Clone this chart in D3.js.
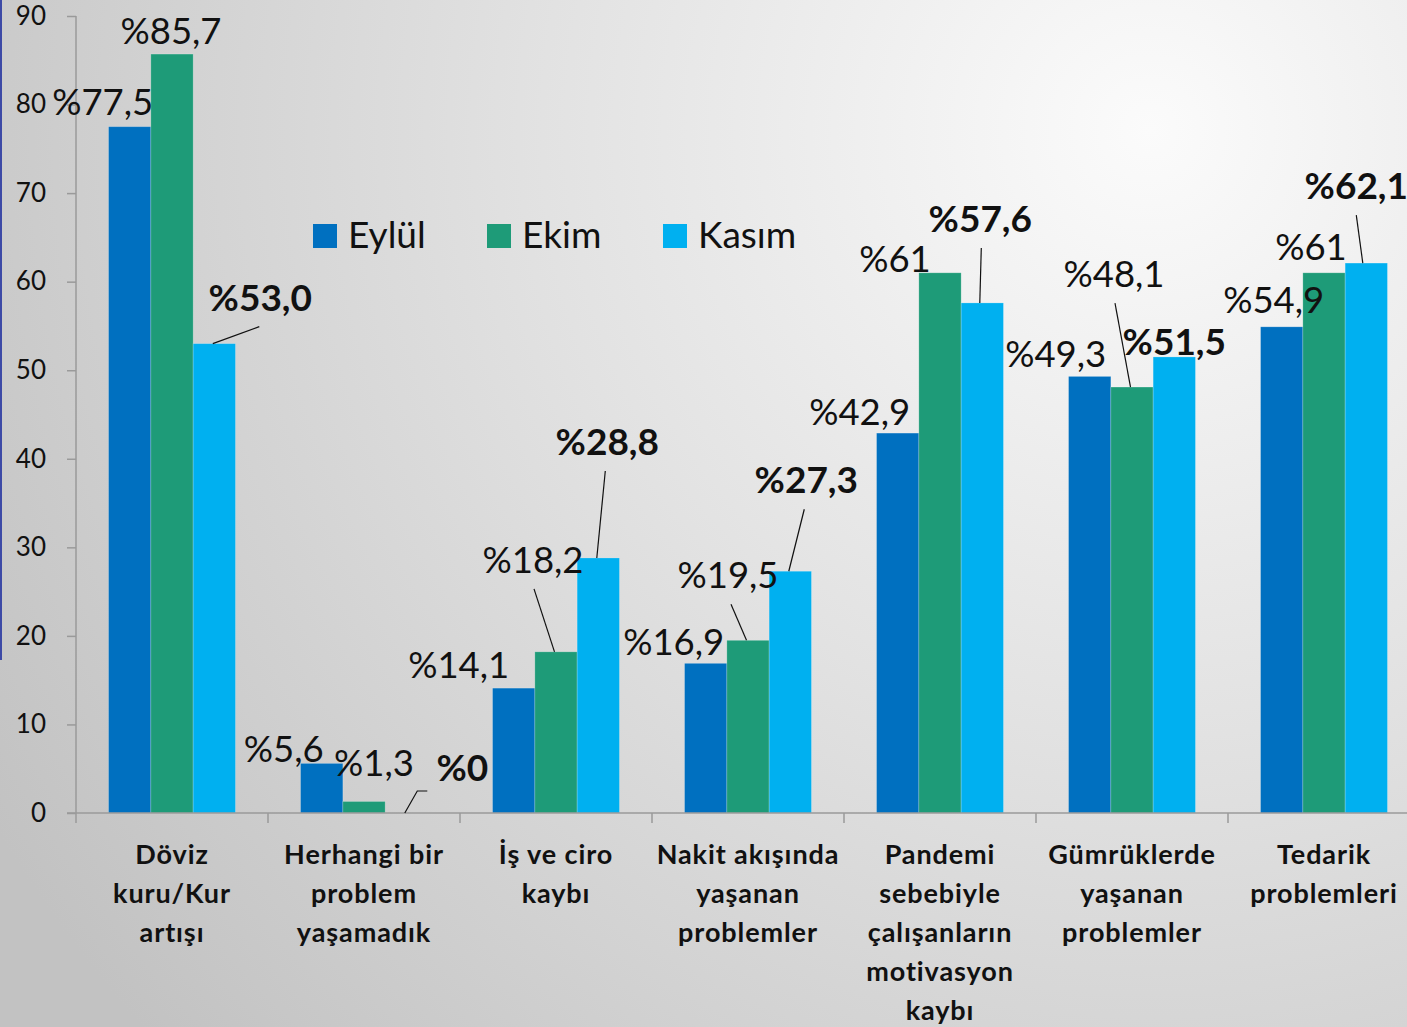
<!DOCTYPE html>
<html>
<head>
<meta charset="utf-8">
<script src="https://cdn.jsdelivr.net/npm/d3@7"></script>
<style>
  html, body { margin: 0; padding: 0; overflow: hidden; }
  text { font-family: Lato, "Open Sans", sans-serif; }
</style>
</head>
<body>
<div></div>
<script>
var width = 1407;
var height = 1027;

// data
var categories = [
    ['Döviz', 'kuru/Kur', 'artışı'],
    ['Herhangi bir', 'problem', 'yaşamadık'],
    ['İş ve ciro', 'kaybı'],
    ['Nakit akışında', 'yaşanan', 'problemler'],
    ['Pandemi', 'sebebiyle', 'çalışanların', 'motivasyon', 'kaybı'],
    ['Gümrüklerde', 'yaşanan', 'problemler'],
    ['Tedarik', 'problemleri']
];
var series = ['Eylül', 'Ekim', 'Kasım'];
var eylul = [77.5, 5.6, 14.1, 16.9, 42.9, 49.3, 54.9];
var ekim = [85.7, 1.3, 18.2, 19.5, 61, 48.1, 61];
var kasim = [53.0, 0, 28.8, 27.3, 57.6, 51.5, 62.1];
var labelText = [
    ['%77,5', '%5,6', '%14,1', '%16,9', '%42,9', '%49,3', '%54,9'],
    ['%85,7', '%1,3', '%18,2', '%19,5', '%61', '%48,1', '%61'],
    ['%53,0', '%0', '%28,8', '%27,3', '%57,6', '%51,5', '%62,1']
];
var yTicks = [0, 10, 20, 30, 40, 50, 60, 70, 80, 90];

// label layout (offset from top centre of bar), leader = [label dx, bar dx]
var labelPos = [
    [[-27, -12], [-38, -1], [-55, -10], [-32, -8], [-38, -8], [-34, -9], [-8, -14]],
    [[-1, -10], [10, -25], [-23, -79], [-20, -52], [-45, -1], [-18, -100], [-13, -13]],
    [[46, -33], [56, -32], [9, -103], [16, -78], [-2, -71], [0, -2], [-10, -64]]
];
var leaders = [
    [null, null, null, null, null, null, null],
    [null, null, [1, -1.5], [3, -1.5], null, [1, -1.5], null],
    [[-1, -1.5], 'elbow', [-2, -1.5], [-2, -1.5], [1, -2.5], null, [0, -3.5]]
];

var colors = ['#0070C0', '#1E9B78', '#00B0F0'];
var values = [eylul, ekim, kasim];

var svg = d3.select('div')
    .append('svg').attr('width', width).attr('height', height);

// background
var defs = svg.append('defs');
var grad = defs.append('radialGradient').attr('id', 'bg')
    .attr('gradientUnits', 'userSpaceOnUse')
    .attr('cx', 1150).attr('cy', 130).attr('r', 1350);
grad.append('stop').attr('offset', '0%').attr('stop-color', '#fbfbfb');
grad.append('stop').attr('offset', '45%').attr('stop-color', '#e2e2e2');
grad.append('stop').attr('offset', '100%').attr('stop-color', '#c2c2c2');
svg.append('rect').attr('width', width).attr('height', height).attr('fill', 'url(#bg)');
svg.append('rect').attr('x', 0).attr('y', 0).attr('width', 2).attr('height', 660).attr('fill', '#3d4aa6');

var x0 = d3.scaleBand()
    .domain(d3.range(categories.length))
    .range([76, 76 + 192 * categories.length]);
var x1 = d3.scaleBand()
    .domain(series)
    .range([0, x0.bandwidth()])
    .paddingOuter(0.77);
var y = d3.scaleLinear().domain([0, 90]).range([813, 16]);

var g = svg.append('g');

// y axis
var yAxis = g.append('g')
    .attr('transform', 'translate(76,0)')
    .call(d3.axisLeft(y).tickValues(yTicks).tickSize(9).tickPadding(21));
yAxis.select('.domain').remove();
yAxis.selectAll('line').attr('stroke', '#9a9a9a').attr('stroke-width', 1.5);
yAxis.selectAll('text').attr('font-size', 26).attr('fill', '#111')
    .attr('font-family', 'Lato, sans-serif');
g.append('line').attr('x1', 76).attr('x2', 76).attr('y1', 16).attr('y2', 823)
    .attr('stroke', '#9a9a9a').attr('stroke-width', 1.5);

// bars
var groups = g.append('g')
    .selectAll('g')
    .data(categories)
    .enter()
    .append('g')
    .attr('transform', function (d, i) { return 'translate(' + x0(i) + ',0)'; });

groups.selectAll('rect')
    .data(function (d, i) {
        return series.map(function (s, j) { return { key: s, idx: j, value: values[j][i] }; });
    })
    .enter()
    .append('rect')
    .attr('x', function (d) { return x1(d.key); })
    .attr('y', function (d) { return y(d.value); })
    .attr('width', x1.bandwidth())
    .attr('height', function (d) { return y(0) - y(d.value); })
    .attr('fill', function (d) { return colors[d.idx]; })
    .attr('stroke', 'rgba(255,255,255,0.25)')
    .attr('stroke-width', 0.8);

// x axis
g.append('line').attr('x1', 67).attr('x2', width).attr('y1', 813).attr('y2', 813)
    .attr('stroke', '#9a9a9a').attr('stroke-width', 1.5);
g.append('g').selectAll('line')
    .data(d3.range(1, categories.length))
    .enter().append('line')
    .attr('x1', function (d) { return x0(d); })
    .attr('x2', function (d) { return x0(d); })
    .attr('y1', 813).attr('y2', 823)
    .attr('stroke', '#9a9a9a').attr('stroke-width', 1.5);

// category labels
groups.append('text')
    .attr('x', x0.bandwidth() / 2)
    .attr('y', 864)
    .attr('text-anchor', 'middle')
    .attr('font-size', 27)
    .attr('letter-spacing', 0.9)
    .attr('font-weight', 'bold')
    .attr('fill', '#111')
    .selectAll('tspan')
    .data(function (d) { return d; })
    .enter().append('tspan')
    .attr('x', x0.bandwidth() / 2)
    .attr('dy', function (d, i) { return i === 0 ? 0 : 39; })
    .text(function (d) { return d; });

// value labels and leaders
var labelLayer = g.append('g');
series.forEach(function (s, j) {
    categories.forEach(function (c, i) {
        var bx = x0(i) + x1(s) + x1.bandwidth() / 2;
        var by = y(values[j][i]);
        var lx = bx + labelPos[j][i][0];
        var ly = by + labelPos[j][i][1];
        labelLayer.append('text')
            .attr('x', lx).attr('y', ly)
            .attr('text-anchor', 'middle')
            .attr('font-size', j === 2 ? 37 : 36.5)
            .attr('font-weight', j === 2 ? 'bold' : 'normal')
            .attr('fill', '#111')
            .text(labelText[j][i]);
        var ld = leaders[j][i];
        if (ld === 'elbow') {
            labelLayer.append('polyline')
                .attr('points', [[lx - 35, ly + 10], [lx - 45, ly + 10], [bx - 1.5, by]].join(' '))
                .attr('fill', 'none').attr('stroke', '#111').attr('stroke-width', 1.2);
        } else if (ld) {
            labelLayer.append('line')
                .attr('x1', lx + ld[0]).attr('y1', ly + 16)
                .attr('x2', bx + ld[1]).attr('y2', by)
                .attr('stroke', '#111').attr('stroke-width', 1.2);
        }
    });
});

// legend
var legend = g.append('g').attr('transform', 'translate(313,224)');
var legX = [0, 174, 350];
series.forEach(function (s, j) {
    legend.append('rect').attr('x', legX[j]).attr('y', 0)
        .attr('width', 24).attr('height', 24).attr('fill', colors[j]);
    legend.append('text').attr('x', legX[j] + 35).attr('y', 24)
        .attr('font-size', 37).attr('fill', '#111').text(s);
});
</script>
</body>
</html>
